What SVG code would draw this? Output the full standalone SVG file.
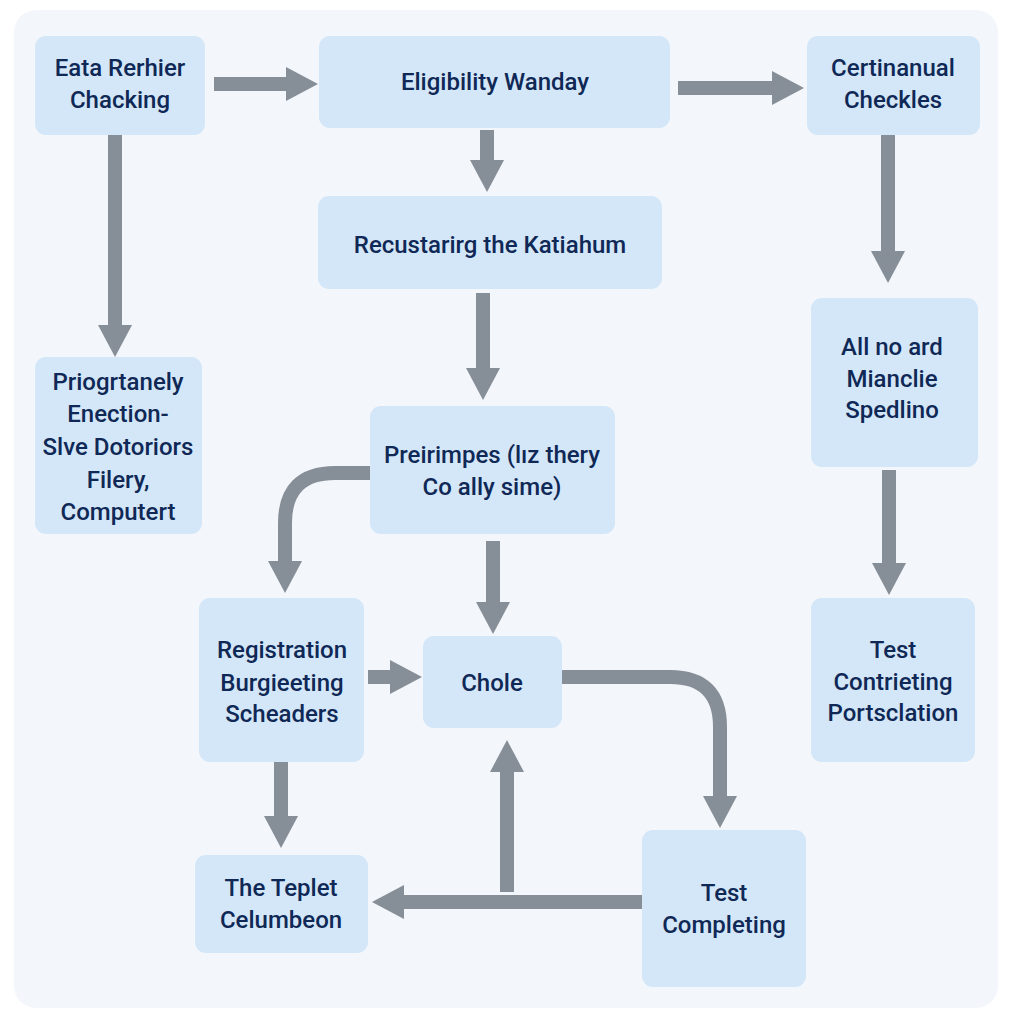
<svg xmlns="http://www.w3.org/2000/svg" width="1024" height="1024" viewBox="0 0 1024 1024">
<style>
.node rect{fill:#d3e7f8;}
.node text{font-family:Roboto,"Liberation Sans",sans-serif;font-weight:500;font-size:24px;fill:#0f2856;text-anchor:middle;}
.conn path{fill:none;stroke:#868e98;stroke-width:14;}
</style>
<defs>
<marker id="ah" markerUnits="userSpaceOnUse" markerWidth="34" markerHeight="36" refX="0" refY="17" orient="auto">
<path d="M0,0 L32,17 L0,34 Z" fill="#868e98"/>
</marker>
</defs>
<rect width="1024" height="1024" fill="#ffffff"/>
<rect x="14" y="10" width="984" height="998" rx="22" fill="#f3f6fa"/>
<g class="conn">
<path d="M214,84 H286" marker-end="url(#ah)"/>
<path d="M678,88 H772" marker-end="url(#ah)"/>
<path d="M487,130 V160" marker-end="url(#ah)"/>
<path d="M115,132 V325" marker-end="url(#ah)"/>
<path d="M888,131 V251" marker-end="url(#ah)"/>
<path d="M483,293 V368" marker-end="url(#ah)"/>
<path d="M370,473 H335 Q285,473 285,523 V561" marker-end="url(#ah)"/>
<path d="M493,541 V602" marker-end="url(#ah)"/>
<path d="M368,677 H390" marker-end="url(#ah)"/>
<path d="M562,677 H670 Q720,677 720,727 V796" marker-end="url(#ah)"/>
<path d="M281,755 V816" marker-end="url(#ah)"/>
<path d="M642,902 H404" marker-end="url(#ah)"/>
<path d="M507,892 V772" marker-end="url(#ah)"/>
<path d="M889,470 V563" marker-end="url(#ah)"/>
</g>
<g id="n1" class="node"><rect x="35" y="36" width="170" height="99" rx="11"/><text x="120" y="76">Eata Rerhier</text><text x="120" y="108">Chacking</text></g>
<g id="n2" class="node"><rect x="319" y="36" width="351" height="92" rx="11"/><text x="495" y="90">Eligibility Wanday</text></g>
<g id="n3" class="node"><rect x="807" y="36" width="173" height="99" rx="11"/><text x="893" y="76">Certinanual</text><text x="893" y="108">Checkles</text></g>
<g id="n4" class="node"><rect x="318" y="196" width="344" height="93" rx="11"/><text x="490" y="253">Recustarirg the Katiahum</text></g>
<g id="n5" class="node"><rect x="35" y="357" width="167" height="177" rx="11"/><text x="118" y="390">Priogrtanely</text><text x="118" y="422">Enection-</text><text x="118" y="455">Slve Dotoriors</text><text x="118" y="488">Filery,</text><text x="118" y="520">Computert</text></g>
<g id="n6" class="node"><rect x="370" y="406" width="245" height="128" rx="11"/><text x="492" y="463">Preirimpes (lız thery</text><text x="492" y="495">Co ally sime)</text></g>
<g id="n7" class="node"><rect x="811" y="298" width="167" height="169" rx="11"/><text x="892" y="355">All no ard</text><text x="892" y="387">Mianclie</text><text x="892" y="418">Spedlino</text></g>
<g id="n8" class="node"><rect x="199" y="598" width="165" height="164" rx="11"/><text x="282" y="658">Registration</text><text x="282" y="691">Burgieeting</text><text x="282" y="722">Scheaders</text></g>
<g id="n9" class="node"><rect x="423" y="636" width="139" height="92" rx="11"/><text x="492" y="691">Chole</text></g>
<g id="n10" class="node"><rect x="195" y="855" width="173" height="98" rx="11"/><text x="281" y="896">The Teplet</text><text x="281" y="928">Celumbeon</text></g>
<g id="n11" class="node"><rect x="642" y="830" width="164" height="157" rx="11"/><text x="724" y="901">Test</text><text x="724" y="933">Completing</text></g>
<g id="n12" class="node"><rect x="811" y="598" width="164" height="164" rx="11"/><text x="893" y="658">Test</text><text x="893" y="690">Contrieting</text><text x="893" y="721">Portsclation</text></g>
</svg>
